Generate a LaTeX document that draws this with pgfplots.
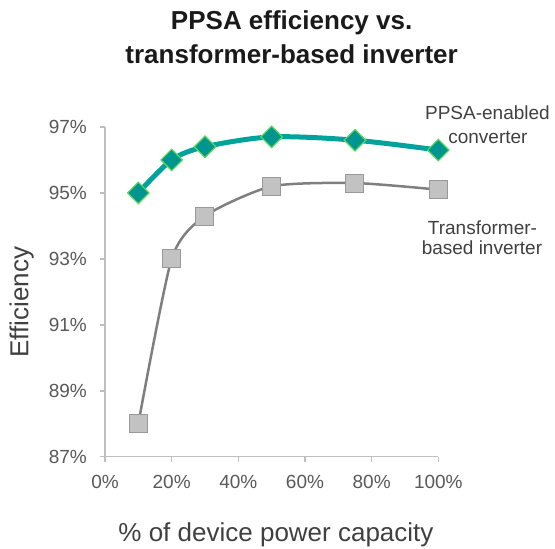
\documentclass[border=0pt]{standalone}
\usepackage{fontspec}
\setmainfont{Liberation Sans}
\usepackage{pgfplots}
\pgfplotsset{compat=1.18}
\definecolor{tealline}{HTML}{00A39C}
\definecolor{tealfill}{HTML}{00968F}
\definecolor{tealedge}{HTML}{5CD65C}
\definecolor{grayline}{HTML}{7F7F7F}
\definecolor{grayfill}{HTML}{C2C2C2}
\definecolor{grayedge}{HTML}{999999}
\definecolor{axisgray}{HTML}{BFBFBF}
\definecolor{ticktext}{HTML}{595959}
\definecolor{labeltext}{HTML}{404040}
\definecolor{titletext}{HTML}{1A1A1A}
\begin{document}
\begin{tikzpicture}
\useasboundingbox (-105pt,-92.3pt) rectangle (450pt,456.7pt);
\begin{axis}[
  at={(0pt,0pt)}, anchor=south west,
  scale only axis, width=333.3pt, height=329.7pt,
  xmin=0, xmax=100, ymin=87, ymax=97,
  axis x line*=bottom, axis y line*=left,
  axis line style={draw=axisgray, line width=1.5pt, -},
  xtick={0,20,40,60,80,100}, ytick={87,89,91,93,95,97},
  xticklabels={0\%,20\%,40\%,60\%,80\%,100\%},
  yticklabels={87\%,89\%,91\%,93\%,95\%,97\%},
  tick align=outside, major tick length=5pt,
  tick style={draw=axisgray, line width=1.5pt},
  ticklabel style={font=\fontsize{19}{22}\selectfont, text=ticktext},
  xticklabel style={anchor=base, inner sep=0pt, yshift=-27pt},
  yticklabel style={anchor=east, inner sep=0pt, xshift=-13pt},
  title={PPSA efficiency vs.\\transformer-based inverter},
  title style={at={(axis description cs:0.56,1.255)}, anchor=center, align=center,
    font=\bfseries\fontsize{26}{34}\selectfont, text=titletext},
  xlabel={\% of device power capacity},
  xlabel style={at={(axis description cs:0.513,-0.2557)}, anchor=base, inner sep=0pt,
    font=\fontsize{26}{30}\selectfont, text=labeltext},
  ylabel={Efficiency},
  ylabel style={at={(axis description cs:-0.25,0.469)}, anchor=center, inner sep=0pt,
    font=\fontsize{26}{30}\selectfont, text=labeltext},
  clip=false,
]
\addplot[grayline, line width=2.5pt, smooth, tension=0.4, mark=square*, mark size=9pt,
  mark options={solid, fill=grayfill, draw=grayedge, line width=1pt}]
  coordinates {(10,88.0) (20,93.0) (30,94.3) (50,95.2) (75,95.3) (100,95.1)};
\addplot[tealline, line width=5pt, smooth, mark=square*, mark size=7.6pt,
  mark options={solid, rotate=45, fill=tealfill, draw=tealedge, line width=1.2pt}]
  coordinates {(10,95.0) (20,96.0) (30,96.4) (50,96.7) (75,96.6) (100,96.3)};
\node[font=\fontsize{19}{22}\selectfont, text=labeltext, anchor=center, inner sep=0pt] at (axis cs:114.75,97.425) {PPSA-enabled};
\node[font=\fontsize{19}{22}\selectfont, text=labeltext, anchor=center, inner sep=0pt] at (axis cs:114.9,96.697) {converter};
\node[font=\fontsize{19}{22}\selectfont, text=labeltext, anchor=center, inner sep=0pt] at (axis cs:113.25,93.95) {Transformer-};
\node[font=\fontsize{19}{22}\selectfont, text=labeltext, anchor=center, inner sep=0pt] at (axis cs:113.1,93.34) {based inverter};
\end{axis}
\end{tikzpicture}
\end{document}
